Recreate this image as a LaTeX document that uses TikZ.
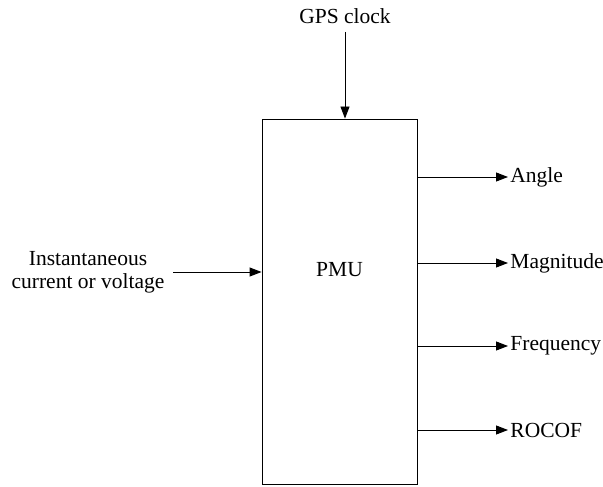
\documentclass[tikz,border=0pt]{standalone}
\usepackage{fontspec}
\setmainfont{Liberation Serif}
\usetikzlibrary{arrows.meta}
\begin{document}
\begin{tikzpicture}[x=1pt,y=-1pt,line width=0.9pt,
	>={Triangle[length=12pt,width=9pt]},
	lbl/.style={font=\fontsize{21.5}{23}\selectfont,inner sep=2pt}]
	    \useasboundingbox (0,0) rectangle (603,487);
	    % the unit itself
	    \node[draw,minimum width=155pt,minimum height=365pt] (pmu) at (339.5,301.5) {};
	    \node[lbl] (pmutxt) at (339.5,270) {PMU};
	    % clock input from above
	    \node[lbl] (gps) at (345,16) {GPS clock};
	    \coordinate (gpsin) at (gps |- pmu.north);
	    \draw[->] ([yshift=-16pt]gps.center) -- (gpsin);
	    % measured signal on the left
	    \node[lbl,align=center] (sig) at (88,272) {Instantaneous\\current or voltage};
	    \coordinate (sigout) at (173,272);
	    \coordinate (sigin) at (pmu.west |- sigout);
	    \draw[->] (sigout) -- (sigin);
	    % outputs on the right
	    \foreach \nm/\txt/\yy in {ang/Angle/177,mag/Magnitude/263,frq/Frequency/346,rcf/ROCOF/430}{
	        \coordinate (\nm out) at (pmu.east |- 0,\yy);
	        \node[lbl,anchor=west] (\nm) at (508,\yy) {\txt};
	        \draw[->] (\nm out) -- (\nm.west);
	    }
	\end{tikzpicture}
\end{document}
